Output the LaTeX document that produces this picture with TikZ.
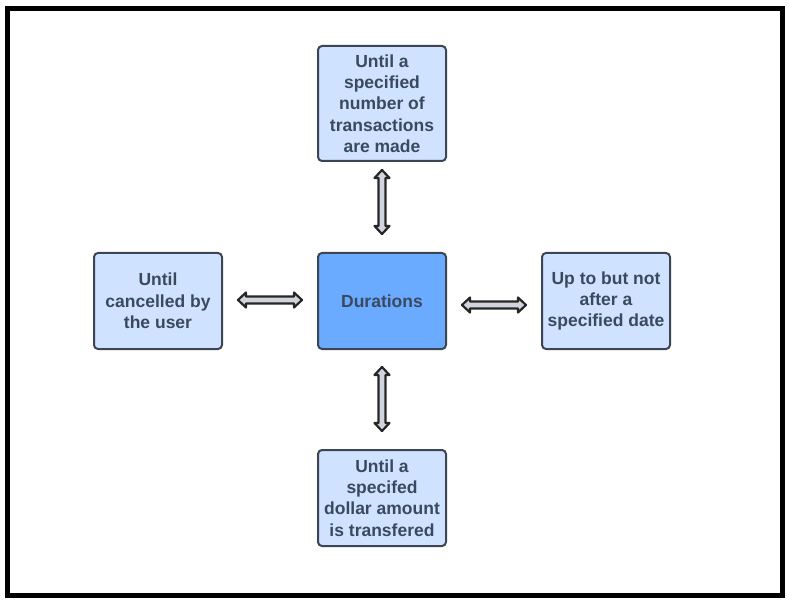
\documentclass[tikz,border=0pt]{standalone}
\usepackage{fontspec}
\setmainfont{Liberation Sans}
\usetikzlibrary{calc}
\definecolor{boxfill}{HTML}{CFE2FF}
\definecolor{centerfill}{HTML}{6AABFF}
\definecolor{boxline}{HTML}{3D4452}
\definecolor{txt}{HTML}{3A4A5E}
\definecolor{arrowfill}{HTML}{D0D5DD}
\tikzset{
  box/.style={draw=boxline, line width=2pt, rounded corners=4pt, fill=boxfill,
    minimum width=128pt, minimum height=96pt, align=center,
    inner sep=0pt, text=txt, font=\fontsize{17.5}{21.3}\selectfont\bfseries},
  fatarrow/.style={draw=black!85, fill=arrowfill, line width=2.2pt, line join=round},
}
\newcommand\harrow[2]{\draw[fatarrow] let \p1=(#1), \p2=(#2) in
  (\x1,\y1) -- (\x1+8pt,\y1+7.5pt) -- (\x1+8pt,\y1+3.5pt) -- (\x2-8pt,\y1+3.5pt) -- (\x2-8pt,\y1+7.5pt)
  -- (\x2,\y1) -- (\x2-8pt,\y1-7.5pt) -- (\x2-8pt,\y1-3.5pt) -- (\x1+8pt,\y1-3.5pt) -- (\x1+8pt,\y1-7.5pt) -- cycle;}
\newcommand\varrow[2]{\draw[fatarrow] let \p1=(#1), \p2=(#2) in
  (\x1,\y1) -- (\x1+7.5pt,\y1-8pt) -- (\x1+3.5pt,\y1-8pt) -- (\x1+3.5pt,\y2+8pt) -- (\x1+7.5pt,\y2+8pt)
  -- (\x1,\y2) -- (\x1-7.5pt,\y2+8pt) -- (\x1-3.5pt,\y2+8pt) -- (\x1-3.5pt,\y1-8pt) -- (\x1-7.5pt,\y1-8pt) -- cycle;}
\begin{document}
\begin{tikzpicture}[x=1pt,y=-1pt]
\useasboundingbox (0,0) rectangle (790,604);
\draw[line width=5pt] (7.5,8.5) rectangle (782.5,595.5);
\node[box, minimum height=115pt] (top) at (382,103.5) {Until a\\specified\\number of\\transactions\\are made};
\node[box, fill=centerfill] (c) at (382,301) {Durations};
\node[box] (l) at (158,301) {Until\\cancelled by\\the user};
\node[box] (r) at (606,301) {Up to but not\\after a\\specified date};
\node[box] (b) at (382,498) {Until a\\specifed\\dollar amount\\is transfered};
\coordinate (t1) at ($(top.south)+(0,8)$);
\coordinate (t2) at ($(c.north)+(0,-18)$);
\coordinate (b1) at ($(c.south)+(0,17)$);
\coordinate (b2) at ($(b.north)+(0,-18)$);
\coordinate (l1) at ($(l.east)+(15,-1)$);
\coordinate (l2) at ($(c.west)+(-15,-1)$);
\coordinate (r1) at ($(c.east)+(15,4)$);
\coordinate (r2) at ($(r.west)+(-15,4)$);
\varrow{t1}{t2}
\varrow{b1}{b2}
\harrow{l1}{l2}
\harrow{r1}{r2}
\end{tikzpicture}
\end{document}
